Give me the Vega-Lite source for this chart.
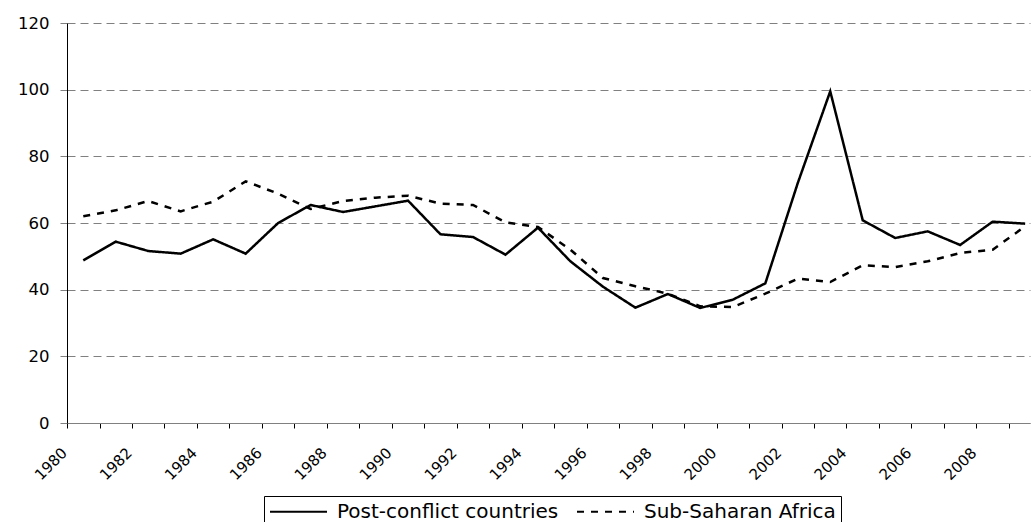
{
  "$schema": "https://vega.github.io/schema/vega-lite/v6.json",
  "width": 963,
  "height": 400,
  "autosize": "none",
  "padding": {"left": 67, "top": 23, "right": 2, "bottom": 99},
  "background": "white",
  "config": {
    "view": {"stroke": null},
    "axis": {"labelFont": "DejaVu Sans", "labelFontSize": 15, "labelColor": "black", "title": null},
    "legend": {"labelFont": "DejaVu Sans"}
  },
  "data": {
    "values": [
      {"year": "1980", "series": "Post-conflict countries", "value": 48.8},
      {"year": "1981", "series": "Post-conflict countries", "value": 54.4},
      {"year": "1982", "series": "Post-conflict countries", "value": 51.6},
      {"year": "1983", "series": "Post-conflict countries", "value": 50.8},
      {"year": "1984", "series": "Post-conflict countries", "value": 55.1},
      {"year": "1985", "series": "Post-conflict countries", "value": 50.8},
      {"year": "1986", "series": "Post-conflict countries", "value": 60.0},
      {"year": "1987", "series": "Post-conflict countries", "value": 65.4},
      {"year": "1988", "series": "Post-conflict countries", "value": 63.3},
      {"year": "1989", "series": "Post-conflict countries", "value": 65.0},
      {"year": "1990", "series": "Post-conflict countries", "value": 66.7},
      {"year": "1991", "series": "Post-conflict countries", "value": 56.6},
      {"year": "1992", "series": "Post-conflict countries", "value": 55.8},
      {"year": "1993", "series": "Post-conflict countries", "value": 50.5},
      {"year": "1994", "series": "Post-conflict countries", "value": 58.6},
      {"year": "1995", "series": "Post-conflict countries", "value": 48.5},
      {"year": "1996", "series": "Post-conflict countries", "value": 40.9},
      {"year": "1997", "series": "Post-conflict countries", "value": 34.6},
      {"year": "1998", "series": "Post-conflict countries", "value": 38.7},
      {"year": "1999", "series": "Post-conflict countries", "value": 34.5},
      {"year": "2000", "series": "Post-conflict countries", "value": 37.0},
      {"year": "2001", "series": "Post-conflict countries", "value": 41.9},
      {"year": "2002", "series": "Post-conflict countries", "value": 72.0},
      {"year": "2003", "series": "Post-conflict countries", "value": 99.5},
      {"year": "2004", "series": "Post-conflict countries", "value": 60.8},
      {"year": "2005", "series": "Post-conflict countries", "value": 55.5},
      {"year": "2006", "series": "Post-conflict countries", "value": 57.5},
      {"year": "2007", "series": "Post-conflict countries", "value": 53.4},
      {"year": "2008", "series": "Post-conflict countries", "value": 60.4},
      {"year": "2009", "series": "Post-conflict countries", "value": 59.8},
      {"year": "1980", "series": "Sub-Saharan Africa", "value": 62.0},
      {"year": "1981", "series": "Sub-Saharan Africa", "value": 63.8},
      {"year": "1982", "series": "Sub-Saharan Africa", "value": 66.6},
      {"year": "1983", "series": "Sub-Saharan Africa", "value": 63.5},
      {"year": "1984", "series": "Sub-Saharan Africa", "value": 66.4},
      {"year": "1985", "series": "Sub-Saharan Africa", "value": 72.5},
      {"year": "1986", "series": "Sub-Saharan Africa", "value": 68.8},
      {"year": "1987", "series": "Sub-Saharan Africa", "value": 64.2},
      {"year": "1988", "series": "Sub-Saharan Africa", "value": 66.6},
      {"year": "1989", "series": "Sub-Saharan Africa", "value": 67.6},
      {"year": "1990", "series": "Sub-Saharan Africa", "value": 68.2},
      {"year": "1991", "series": "Sub-Saharan Africa", "value": 65.8},
      {"year": "1992", "series": "Sub-Saharan Africa", "value": 65.4},
      {"year": "1993", "series": "Sub-Saharan Africa", "value": 60.2},
      {"year": "1994", "series": "Sub-Saharan Africa", "value": 58.8},
      {"year": "1995", "series": "Sub-Saharan Africa", "value": 52.0},
      {"year": "1996", "series": "Sub-Saharan Africa", "value": 43.5},
      {"year": "1997", "series": "Sub-Saharan Africa", "value": 41.0},
      {"year": "1998", "series": "Sub-Saharan Africa", "value": 38.8},
      {"year": "1999", "series": "Sub-Saharan Africa", "value": 35.0},
      {"year": "2000", "series": "Sub-Saharan Africa", "value": 34.8},
      {"year": "2001", "series": "Sub-Saharan Africa", "value": 38.8},
      {"year": "2002", "series": "Sub-Saharan Africa", "value": 43.3},
      {"year": "2003", "series": "Sub-Saharan Africa", "value": 42.3},
      {"year": "2004", "series": "Sub-Saharan Africa", "value": 47.3},
      {"year": "2005", "series": "Sub-Saharan Africa", "value": 46.8},
      {"year": "2006", "series": "Sub-Saharan Africa", "value": 48.5},
      {"year": "2007", "series": "Sub-Saharan Africa", "value": 51.0},
      {"year": "2008", "series": "Sub-Saharan Africa", "value": 52.0},
      {"year": "2009", "series": "Sub-Saharan Africa", "value": 59.0}
    ]
  },
  "mark": {"type": "line", "color": "black", "strokeWidth": 2.5},
  "encoding": {
    "x": {
      "field": "year",
      "timeUnit": "utcyear",
      "type": "temporal",
      "bandPosition": 0.5,
      "scale": {
        "type": "utc",
        "domain": [{"year": 1980, "utc": true}, {"year": 2009, "month": 8, "date": 26, "utc": true}],
        "nice": false
      },
      "axis": {
        "grid": false,
        "tickCount": {"interval": "year", "step": 1},
        "labelExpr": "utcyear(datum.value) % 2 === 0 ? utcFormat(datum.value, '%Y') : ''",
        "labelAngle": -45,
        "labelAlign": "right",
        "labelBaseline": "middle",
        "labelPadding": 22,
        "labelOffset": -3,
        "labelOverlap": false,
        "labelFlush": false,
        "domainColor": "#808080",
        "tickColor": "black",
        "tickSize": 5
      }
    },
    "y": {
      "field": "value",
      "type": "quantitative",
      "scale": {"domain": [0, 120], "nice": false},
      "axis": {
        "values": [0, 20, 40, 60, 80, 100, 120],
        "grid": true,
        "gridDash": [8, 5],
        "gridColor": "#808080",
        "domainColor": "black",
        "tickColor": "#808080",
        "tickSize": 7,
        "labelPadding": 11,
        "labelFontSize": 16.5
      }
    },
    "strokeDash": {
      "field": "series",
      "type": "nominal",
      "scale": {"domain": ["Post-conflict countries", "Sub-Saharan Africa"], "range": [[1, 0], [7, 7]]},
      "legend": {
        "title": null,
        "orient": "none",
        "legendX": 197,
        "legendY": 473,
        "direction": "horizontal",
        "strokeColor": "black",
        "fillColor": "white",
        "padding": 5,
        "labelFontSize": 20,
        "labelColor": "black",
        "labelLimit": 400,
        "labelOffset": 47,
        "columnPadding": 14,
        "symbolType": "M-1,0H5",
        "symbolSize": 361,
        "symbolStrokeWidth": 2,
        "symbolStrokeColor": "black"
      }
    }
  }
}
